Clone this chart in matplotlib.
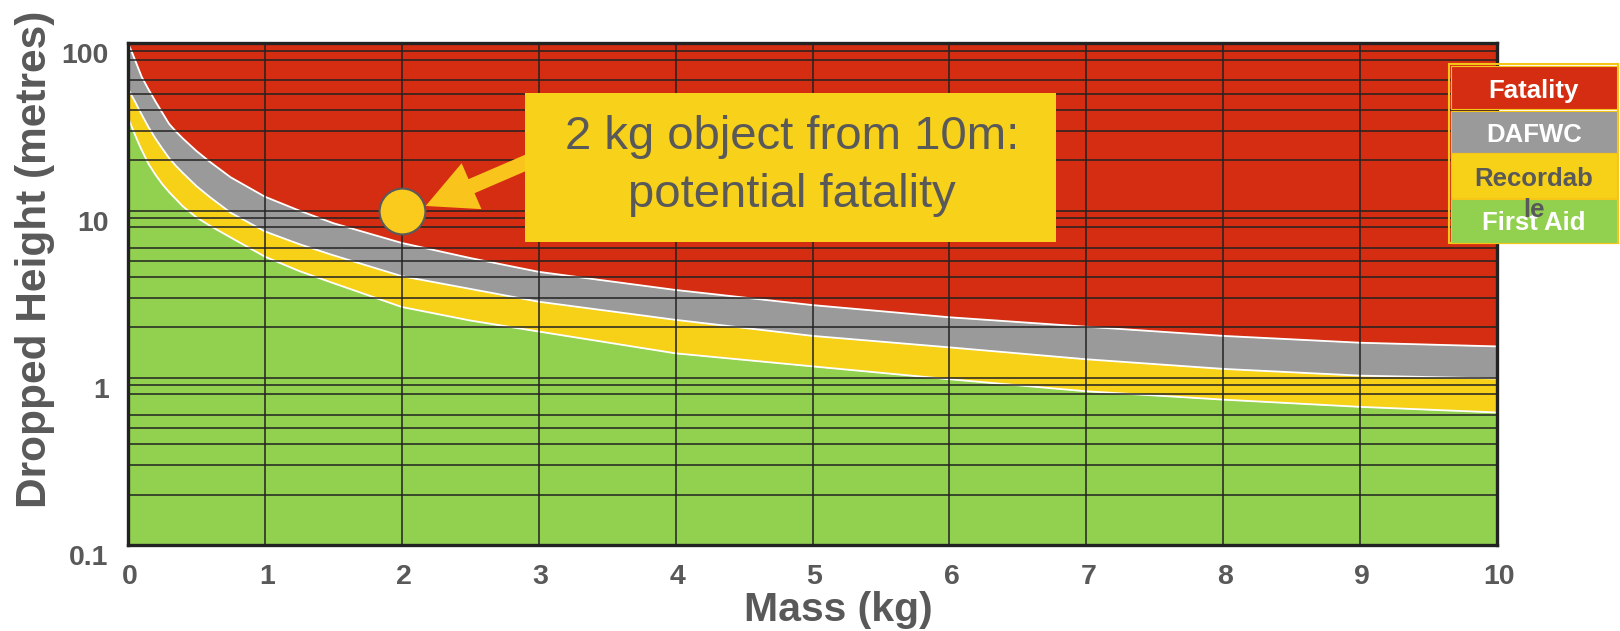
import matplotlib
matplotlib.use('Agg')
import matplotlib.pyplot as plt
import matplotlib.transforms as mtransforms
from matplotlib.patches import Rectangle
from matplotlib.ticker import NullLocator

plt.rcParams['font.family'] = ['Liberation Sans', 'DejaVu Sans']

# valores (massa em kg, altura em m)
mass = [0, 0.025, 0.05, 0.075, 0.1, 0.15, 0.2, 0.25, 0.3, 0.35, 0.4, 0.5, 0.6, 0.75,
        1, 1.25, 1.5, 2, 2.5, 3, 4, 5, 6, 7, 8, 9, 10]
fatality_lim = [100, 90, 80, 71, 63, 53, 45, 38.5, 33, 29.7, 27, 22.7, 19.5, 15.8,
                12.1, 10.0, 8.4, 6.4, 5.2, 4.3, 3.35, 2.72, 2.3, 2.02, 1.78, 1.62, 1.54]
dafwc_lim = [54, 49, 45, 41, 37.5, 31.5, 27, 23.5, 20.6, 18.5, 16.8, 14, 12, 9.7,
             7.5, 6.3, 5.4, 4.05, 3.4, 2.85, 2.22, 1.78, 1.52, 1.29, 1.13, 1.03, 0.99]
recordable_lim = [36, 32, 28.5, 25.5, 23, 19, 16.4, 14.4, 12.9, 11.7, 10.6, 9.1, 8.1, 6.9,
                  5.3, 4.35, 3.68, 2.65, 2.2, 1.89, 1.40, 1.17, 0.98, 0.83, 0.74, 0.67, 0.62]

x_ticks = [0, 1, 2, 3, 4, 5, 6, 7, 8, 9, 10]
y_ticks = [0.1, 1, 10, 100]
y_tick_labels = ['0.1', '1', '10', '100']
h_grid = [90, 80, 60, 50, 40, 30, 20, 10, 9, 8, 6, 5, 4, 3, 2, 1, 0.9, 0.8, 0.6, 0.5, 0.4, 0.3, 0.2]

example_mass = 2
example_height = 10
note = ['2 kg object from 10m:', 'potential fatality']

legend_names = ['Fatality', 'DAFWC', 'Recordable', 'First Aid']

red = '#D42D12'
grey = '#9A9A9A'
yellow = '#F7D117'
green = '#92D050'
txt = '#595959'

W, H = 1620, 631
fig = plt.figure(figsize=(W / 100, H / 100), dpi=100)

def fx(px):
    return px / W

def fy(py):
    return 1 - py / H

ax = fig.add_axes([fx(128), fy(545), fx(1497) - fx(128), fy(43.3) - fy(545)])

ax.fill_between(mass, fatality_lim, 100, color=red, lw=0, zorder=1)
ax.fill_between(mass, dafwc_lim, fatality_lim, color=grey, lw=0, zorder=1)
ax.fill_between(mass, recordable_lim, dafwc_lim, color=yellow, lw=0, zorder=1)
ax.fill_between(mass, 0.1, recordable_lim, color=green, lw=0, zorder=1)
for lim in [fatality_lim, dafwc_lim, recordable_lim]:
    ax.plot(mass, lim, color='white', lw=1.3, zorder=2)

for v in x_ticks[1:-1]:
    ax.axvline(v, color='#222222', lw=1.1, zorder=4)
for v in h_grid:
    ax.axhline(v, color='#222222', lw=1.1, zorder=4)

ax.set_yscale('log')
ax.set_xlim(0, 10)
ax.set_ylim(0.1, 100)
ax.yaxis.set_minor_locator(NullLocator())
ax.set_xticks(x_ticks)
ax.set_xticklabels([str(v) for v in x_ticks], fontweight='bold')
ax.set_yticks(y_ticks)
ax.set_yticklabels(y_tick_labels, fontweight='bold')
ax.tick_params(length=0, labelsize=20.5, labelcolor=txt)
ax.tick_params(axis='x', pad=14)
ax.tick_params(axis='y', pad=14)
for s in ax.spines.values():
    s.set_linewidth(2.4)
    s.set_color('#222222')
    s.set_zorder(5)

off_y = mtransforms.ScaledTranslation(0, -10 / 100, fig.dpi_scale_trans)
for lab in ax.get_yticklabels():
    lab.set_transform(lab.get_transform() + off_y)
off_x = mtransforms.ScaledTranslation(2 / 100, 0, fig.dpi_scale_trans)
for lab in ax.get_xticklabels():
    lab.set_transform(lab.get_transform() + off_x)

# caixa de anotação, seta e círculo
ax.annotate('', xy=(2.174, 10.65), xytext=(3.1, 22.6),
            arrowprops=dict(arrowstyle='simple,head_length=3.6,head_width=3.6,tail_width=1.1',
                            mutation_scale=10, color='#F9C51C', lw=0,
                            shrinkA=0, shrinkB=0), zorder=6)
ax.add_patch(Rectangle((2.90, 6.5), 3.88, 50.2 - 6.5, facecolor='#F7D11A', edgecolor='none', zorder=7))
ax.plot([example_mass], [example_height], 'o', ms=33, mfc='#FACB1D', mec='#5A5A5A', mew=1.5, zorder=8)
fig.text(fx(792), fy(149), note[0], ha='center', va='baseline', fontsize=34, color=txt, zorder=9)
fig.text(fx(792), fy(206.7), note[1], ha='center', va='baseline', fontsize=34, color=txt, zorder=9)

# legenda
gold = '#F5C518'
fig.add_artist(Rectangle((fx(1449), fy(243.3)), fx(1618.3) - fx(1449), fy(64.3) - fy(243.3),
                         transform=fig.transFigure, facecolor='none', edgecolor=gold, lw=1.5, zorder=3))
cells = [(66, 109.3, red), (110.7, 152.7, grey), (152.7, 198.3, yellow), (199.3, 242.7, green)]
for top, bot, col in cells:
    fig.add_artist(Rectangle((fx(1450.7), fy(bot)), fx(1616.7) - fx(1450.7), fy(top) - fy(bot),
                             transform=fig.transFigure, facecolor=col, edgecolor=gold, lw=0.8, zorder=3))
lx = fx(1533.7)
fig.text(lx, fy(97.7), legend_names[0], ha='center', va='baseline', fontsize=18.5, fontweight='bold', color='white', zorder=4)
fig.text(lx, fy(142.3), legend_names[1], ha='center', va='baseline', fontsize=18.5, fontweight='bold', color='white', zorder=4)
fig.text(lx, fy(230), legend_names[3], ha='center', va='baseline', fontsize=18.5, fontweight='bold', color='white', zorder=4)
fig.text(lx, fy(185.7), legend_names[2][:8], ha='center', va='baseline', fontsize=18.5, fontweight='bold', color=txt, zorder=5)
fig.text(lx, fy(216.7), legend_names[2][8:], ha='center', va='baseline', fontsize=18.5, fontweight='bold', color=txt, zorder=5)

# títulos dos eixos
fig.text(fx(838), fy(621), 'Mass (kg)', ha='center', va='baseline', fontsize=29.5, fontweight='bold', color=txt)
fig.text(fx(46), fy(259), 'Dropped Height (metres)', ha='center', va='baseline', rotation=90,
         rotation_mode='anchor', fontsize=30.5, fontweight='bold', color=txt)

fig.savefig('out.png', dpi=100)
